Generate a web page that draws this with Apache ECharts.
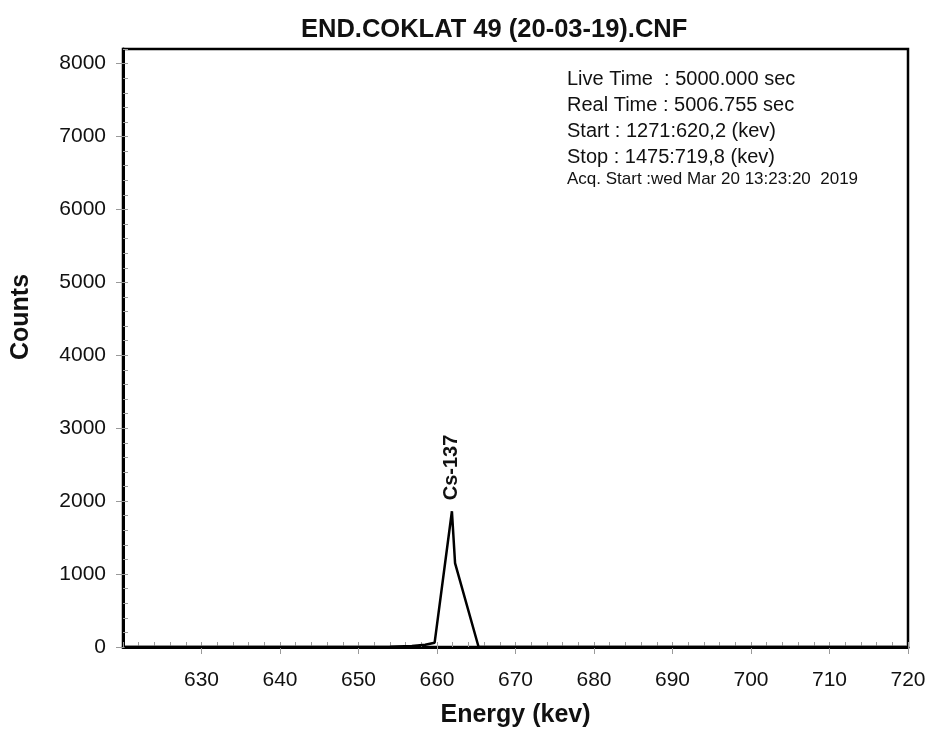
<!DOCTYPE html>
<html>
<head>
<meta charset="utf-8">
<script src="https://cdn.jsdelivr.net/npm/echarts@6/dist/echarts.min.js"></script>
<style>html,body{margin:0;padding:0;background:#fff;}#c{width:931px;height:729px;}</style>
</head>
<body>
<div id="c"></div>
<script>
const titleText = 'END.COKLAT 49 (20-03-19).CNF';
const xName = 'Energy (kev)';
const yName = 'Counts';
const energy = [620.2, 640, 650, 654, 656.8, 658.5, 659.7, 661.9, 662.3, 665.3, 680, 700, 719.8];
const counts = [0, 0, 1, 4, 14, 30, 59, 1861, 1151, 0, 0, 0, 0];
const peakName = 'Cs-137';
const infoLines = [
  'Live Time  : 5000.000 sec',
  'Real Time : 5006.755 sec',
  'Start : 1271:620,2 (kev)',
  'Stop : 1475:719,8 (kev)'
];
const acqLine = 'Acq. Start :wed Mar 20 13:23:20  2019';

const FONT = '"Liberation Sans", Arial, sans-serif';
const peakIdx = counts.indexOf(Math.max(...counts));
const seriesData = energy.map((e, i) => {
  const item = { value: [e, counts[i]] };
  if (i === peakIdx) {
    item.label = {
      show: true, formatter: peakName, position: 'top', rotate: 90,
      align: 'left', verticalAlign: 'middle', distance: 11,
      fontFamily: FONT, fontWeight: 'bold', fontSize: 20, color: '#111'
    };
  }
  return item;
});

const chart = echarts.init(document.getElementById('c'), null, { renderer: 'canvas' });
const tickGray = '#9a9a9a';
const infoGraphics = infoLines.map((t, i) => ({
  type: 'text', left: 567, top: 69 + i * 26,
  style: { text: t, font: '20px ' + FONT, fill: '#111' }
}));
infoGraphics.push({
  type: 'text', left: 567, top: 171,
  style: { text: acqLine, font: '17px ' + FONT, fill: '#111' }
});

chart.setOption({
  backgroundColor: '#fff',
  animation: false,
  title: {
    text: titleText, left: 296, top: 12,
    textStyle: { fontFamily: FONT, fontWeight: 'bold', fontSize: 25.5, color: '#111' }
  },
  grid: {
    left: 123, right: 23, top: 49, bottom: 82,
    containLabel: false, outerBoundsMode: 'none',
    show: true, borderColor: '#000', borderWidth: 2.5, backgroundColor: 'transparent'
  },
  xAxis: [
    {
      type: 'value', position: 'bottom', min: 620, max: 720, interval: 10,
      name: xName, nameLocation: 'middle', nameGap: 56,
      nameTextStyle: { fontFamily: FONT, fontWeight: 'bold', fontSize: 25, color: '#111' },
      axisLine: { show: true, onZero: false, lineStyle: { color: '#000', width: 3 } },
      axisTick: { show: true, inside: false, length: 7, lineStyle: { color: tickGray, width: 1 } },
      axisLabel: { margin: 23, fontFamily: FONT, fontSize: 21, color: '#111', showMinLabel: false,
        formatter: v => String(v) },
      splitLine: { show: false }
    },
    {
      type: 'value', position: 'bottom', min: 620, max: 720, interval: 2,
      axisLine: { show: false },
      axisTick: { show: true, inside: true, length: 5, lineStyle: { color: tickGray, width: 1 } },
      axisLabel: { show: false },
      splitLine: { show: false }
    }
  ],
  yAxis: [
    {
      type: 'value', position: 'left', min: 0, max: 8200, interval: 1000,
      name: yName, nameLocation: 'middle', nameGap: 89,
      nameTextStyle: { fontFamily: FONT, fontWeight: 'bold', fontSize: 25, color: '#111',
        padding: [0, 0, 0, 62] },
      axisLine: { show: true, onZero: false, lineStyle: { color: '#000', width: 3 } },
      axisTick: { show: true, inside: false, length: 7, lineStyle: { color: tickGray, width: 1 } },
      axisLabel: { margin: 17, fontFamily: FONT, fontSize: 21, color: '#111', showMaxLabel: false,
        formatter: v => String(v) },
      splitLine: { show: false }
    },
    {
      type: 'value', position: 'left', min: 0, max: 8200, interval: 200,
      axisLine: { show: false },
      axisTick: { show: true, inside: true, length: 5, lineStyle: { color: tickGray, width: 1 } },
      axisLabel: { show: false },
      splitLine: { show: false }
    }
  ],
  series: [{
    type: 'line', xAxisIndex: 0, yAxisIndex: 0,
    data: seriesData, showSymbol: true, symbol: 'circle', symbolSize: 0,
    lineStyle: { color: '#000', width: 2.5 },
    itemStyle: { color: '#000' },
    z: 5
  }],
  graphic: infoGraphics
});
</script>
</body>
</html>
